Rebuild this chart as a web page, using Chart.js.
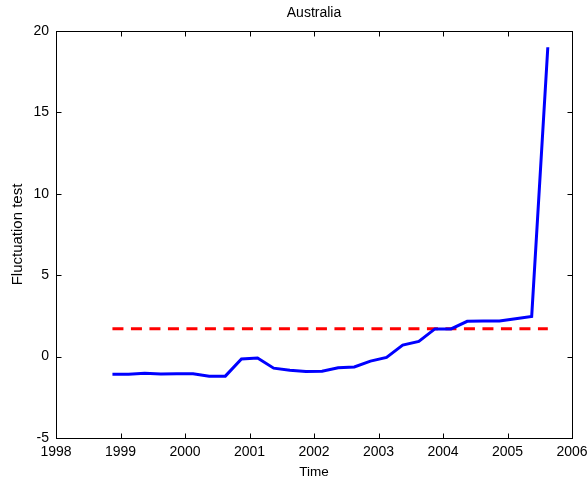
<!DOCTYPE html>
<html><head><meta charset="utf-8">
<script src="https://cdn.jsdelivr.net/npm/chart.js@4/dist/chart.umd.min.js"></script>
<style>html,body{margin:0;padding:0;background:#fff}#wrap{width:587px;height:485px}</style>
</head><body><div id="wrap"><canvas id="c" width="587" height="485"></canvas></div>
<script>
const chartTitle = 'Australia';
const xTitle = 'Time';
const yTitle = 'Fluctuation test';
const times = [1998.875, 1999.125, 1999.375, 1999.625, 1999.875, 2000.125, 2000.375, 2000.625,
  2000.875, 2001.125, 2001.375, 2001.625, 2001.875, 2002.125, 2002.375, 2002.625,
  2002.875, 2003.125, 2003.375, 2003.625, 2003.875, 2004.125, 2004.375, 2004.625,
  2004.875, 2005.125, 2005.375, 2005.625];
const fluctuation = [-1.08, -1.08, -1.03, -1.07, -1.05, -1.05, -1.21, -1.20,
  -0.14, -0.09, -0.71, -0.84, -0.91, -0.90, -0.68, -0.64,
  -0.28, -0.05, 0.71, 0.93, 1.70, 1.70, 2.17, 2.18,
  2.19, 2.33, 2.47, 19.0];
const criticalValue = 1.71;
const criticalSpan = [1998.875, 2005.625];
const xTicks = [1998, 1999, 2000, 2001, 2002, 2003, 2004, 2005, 2006];
const yTicks = [-5, 0, 5, 10, 15, 20];

const FONT = 'Liberation Sans, Arial, sans-serif';

const boxPlugin = {
  id: 'box',
  afterDatasetsDraw(chart) {
    const {ctx, chartArea: a, scales} = chart;
    const L = Math.round(a.left) + 0.5, R = Math.round(a.right) + 0.5;
    const T = Math.round(a.top) + 0.5, B = Math.round(a.bottom) + 0.5;
    ctx.save();
    ctx.strokeStyle = '#000';
    ctx.lineWidth = 1;
    ctx.strokeRect(L, T, R - L, B - T);
    const tl = 5;
    ctx.beginPath();
    xTicks.forEach(v => {
      const x = Math.round(scales.x.getPixelForValue(v)) + 0.5;
      ctx.moveTo(x, B); ctx.lineTo(x, B - tl);
      ctx.moveTo(x, T); ctx.lineTo(x, T + tl);
    });
    yTicks.forEach(v => {
      const y = Math.round(scales.y.getPixelForValue(v)) + 0.5;
      ctx.moveTo(L, y); ctx.lineTo(L + tl, y);
      ctx.moveTo(R, y); ctx.lineTo(R - tl, y);
    });
    ctx.stroke();
    ctx.restore();
  }
};

const noPad = s => { s.paddingLeft = 0; s.paddingRight = 0; s.paddingTop = 0; s.paddingBottom = 0; };

new Chart(document.getElementById('c'), {
  type: 'line',
  data: {
    datasets: [
      {
        label: 'Fluctuation',
        data: times.map((t, i) => ({x: t, y: fluctuation[i]})),
        borderColor: '#0000ff',
        borderWidth: 3,
        pointRadius: 0,
        tension: 0,
        fill: false
      },
      {
        label: 'Critical value',
        data: criticalSpan.map(t => ({x: t, y: criticalValue})),
        borderColor: '#ff0000',
        borderWidth: 3,
        borderDash: [11, 7.5],
        pointRadius: 0,
        fill: false
      }
    ]
  },
  options: {
    responsive: false,
    animation: false,
    devicePixelRatio: 1,
    layout: {padding: {left: 0, right: 15, top: 0, bottom: 0}},
    plugins: {legend: {display: false}, tooltip: {enabled: false}, title: {display: false}},
    scales: {
      x: {
        type: 'linear', position: 'bottom', min: 1998, max: 2006,
        afterBuildTicks: s => { s.ticks = xTicks.map(v => ({value: v})); },
        afterFit: s => { s.height = 47; noPad(s); },
        grid: {display: false, drawTicks: false},
        border: {display: false},
        ticks: {color: '#000', font: {family: FONT, size: 14}, padding: 6, maxRotation: 0, autoSkip: false, callback: v => String(v)},
        title: {display: true, text: xTitle, color: '#000', font: {family: FONT, size: 13.5}, padding: {top: 0, bottom: 5}}
      },
      x2: {
        type: 'linear', position: 'top', min: 1998, max: 2006,
        afterFit: s => { s.height = 31; noPad(s); },
        grid: {display: false, drawTicks: false},
        border: {display: false},
        ticks: {display: false},
        title: {display: true, text: chartTitle, color: '#000', font: {family: FONT, size: 14}, padding: {top: 5, bottom: 0}}
      },
      y: {
        type: 'linear', position: 'left', min: -5, max: 20,
        afterBuildTicks: s => { s.ticks = yTicks.map(v => ({value: v})); },
        afterFit: s => { s.width = 56; noPad(s); },
        grid: {display: false, drawTicks: false},
        border: {display: false},
        ticks: {color: '#000', font: {family: FONT, size: 14}, padding: 7, callback: v => String(v)},
        title: {display: true, text: yTitle, color: '#000', font: {family: FONT, size: 15}, padding: {top: 9, bottom: 0}}
      }
    }
  },
  plugins: [boxPlugin]
});
</script>
</body></html>
